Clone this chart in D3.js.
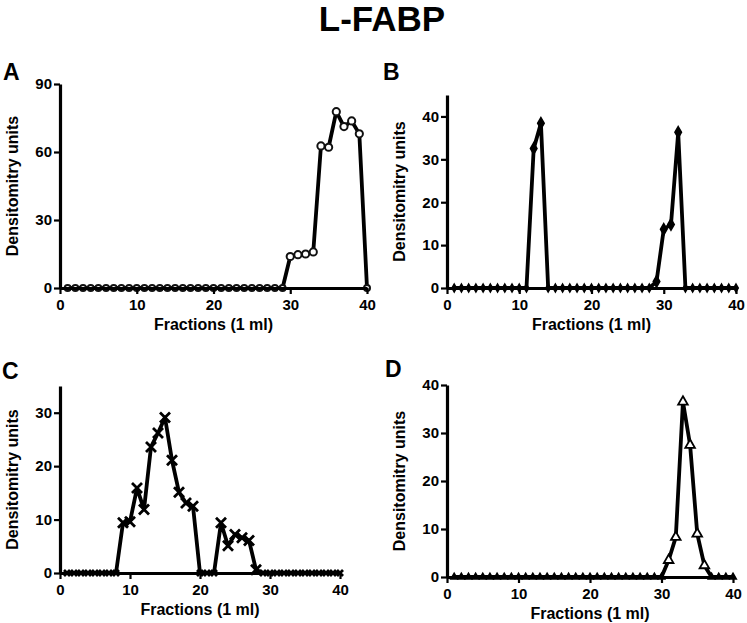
<!DOCTYPE html>
<html><head><meta charset="utf-8">
<script src="https://cdn.jsdelivr.net/npm/d3@7"></script>
<style>
html,body{margin:0;padding:0;background:#fff;}
svg text{font-family:"Liberation Sans",Arial,Helvetica,sans-serif;font-weight:bold;fill:#000;}
</style></head>
<body>
<svg id="chart" width="747" height="623"></svg>
<script>
// ---- data ----
const fractions = d3.range(1, 41);
const xTicks = [0, 10, 20, 30, 40];
const seriesA = [0,0,0,0,0,0,0,0,0,0, 0,0,0,0,0,0,0,0,0,0, 0,0,0,0,0,0,0,0,0,13.9, 14.7,15,15.9,62.7,62.1,77.8,71.2,73.7,68,0];
const seriesB = [0,0,0,0,0,0,0,0,0,0, 0,32.5,38.4,0,0,0,0,0,0,0, 0,0,0,0,0,0,0,0,1.5,13.7, 14.8,36.3,0,0,0,0,0,0,0,0];
const seriesC = [0,0,0,0,0,0,0,0,9.4,9.6, 15.9,11.9,23.6,26.2,29.1,21.1,15.1,13.1,12.5,0, 0,0,9.4,5.1,7.2,6.6,6.1,0.6,0,0, 0,0,0,0,0,0,0,0,0,0];
const seriesD = [0,0,0,0,0,0,0,0,0,0, 0,0,0,0,0,0,0,0,0,0, 0,0,0,0,0,0,0,0,0,0, 3.5,8.3,36.5,27.5,9,2.4,0,0,0,0];
const yMaxA = 90, yTicksA = [0, 30, 60, 90];
const yMaxB = 45, yTicksB = [0, 10, 20, 30, 40];
const yMaxC = 35, yTicksC = [0, 10, 20, 30];
const yMaxD = 40, yTicksD = [0, 10, 20, 30, 40];
const title = "L-FABP";
const xLabel = "Fractions (1 ml)";
const yLabel = "Densitomitry units";

// ---- layout ----
const panels = [
  {id:"A", data:seriesA, ymax:yMaxA, yticks:yTicksA, marker:"circle",   x0:60,  x1:367, y0:288, y1:84,  lx:3,   ly:80},
  {id:"B", data:seriesB, ymax:yMaxB, yticks:yTicksB, marker:"diamond",  x0:447, x1:736, y0:288, y1:95,  lx:383, ly:80},
  {id:"C", data:seriesC, ymax:yMaxC, yticks:yTicksC, marker:"cross",    x0:60,  x1:340, y0:573, y1:386, lx:2,   ly:379},
  {id:"D", data:seriesD, ymax:yMaxD, yticks:yTicksD, marker:"triangle", x0:447, x1:733, y0:577, y1:385, lx:385, ly:377}
];

const svg = d3.select("#chart");
svg.append("text").attr("x", 382).attr("y", 31).attr("text-anchor","middle")
  .style("font-size","35px").text(title);

panels.forEach(p => {
  const x = d3.scaleLinear().domain([0,40]).range([p.x0, p.x1]);
  const y = d3.scaleLinear().domain([0,p.ymax]).range([p.y0, p.y1]);
  const g = svg.append("g");

  g.append("text").attr("x", p.lx).attr("y", p.ly).style("font-size","23px").text(p.id);

  const pts = fractions.map((f,i)=>({f, v:p.data[i]}));
  const line = d3.line().x(d=>x(d.f)).y(d=>y(d.v));
  g.append("path").datum(pts).attr("d",line).attr("fill","none")
    .attr("stroke","#000").attr("stroke-width",3.8).attr("stroke-linejoin","round");

  const mk = g.selectAll("g.m").data(pts).enter().append("g")
    .attr("transform", d=>`translate(${x(d.f)},${y(d.v)})`);
  if (p.marker === "circle") {
    mk.append("circle").attr("r", d=>d.v>0?3.6:3).attr("fill","#fff").attr("stroke","#111").attr("stroke-width",2);
  } else if (p.marker === "diamond") {
    mk.append("path").attr("d", d=>d3.symbol(d3.symbolDiamond, d.v>0?38:18)()).attr("fill","#000").attr("stroke","#000").attr("stroke-width",1.5);
  } else if (p.marker === "cross") {
    mk.append("path").attr("d", d=>{const s=d.v>0?5:3;return `M${-s},${-s}L${s},${s}M${-s},${s}L${s},${-s}`;})
      .attr("stroke","#000").attr("stroke-width",2.8);
  } else {
    mk.append("path").attr("d", d=>d3.symbol(d3.symbolTriangle, d.v>0?40:16)()).attr("fill", d=>d.v>0?"#fff":"#000").attr("stroke","#000").attr("stroke-width",1.8);
  }

  const xAxis = g.append("g").attr("transform",`translate(0,${p.y0})`)
    .call(d3.axisBottom(x).tickValues(xTicks).tickSize(6).tickPadding(5).tickSizeOuter(0));
  const yAxis = g.append("g").attr("transform",`translate(${p.x0},0)`)
    .call(d3.axisLeft(y).tickValues(p.yticks).tickSize(6).tickPadding(2).tickSizeOuter(0));
  [xAxis, yAxis].forEach(a => {
    a.select(".domain").attr("stroke","#000").attr("stroke-width",3.2);
    a.selectAll(".tick line").attr("stroke","#000").attr("stroke-width",2.2);
    a.selectAll(".tick text").style("font-size","15px").style("font-family","'Liberation Sans',Arial,sans-serif").style("font-weight","bold").attr("fill","#000");
  });

  g.append("text").attr("x",(p.x0+p.x1)/2).attr("y",p.y0+42).attr("text-anchor","middle")
    .style("font-size","16px").text(xLabel);
  g.append("text").attr("transform",`translate(${p.x0-42},${(p.y0+p.y1)/2}) rotate(-90)`)
    .attr("text-anchor","middle").style("font-size","16px").text(yLabel);
});
</script>
</body></html>
